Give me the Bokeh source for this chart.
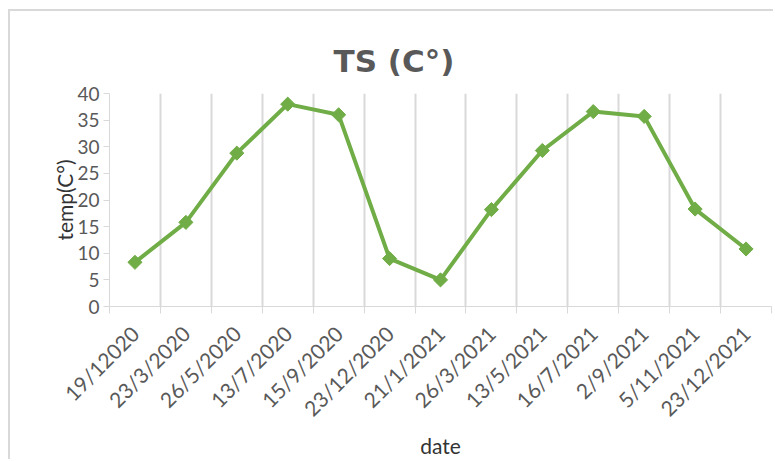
import math
from bokeh.plotting import figure
from bokeh.models import FixedTicker, LinearAxis, Range1d, Title
from bokeh.embed import file_html
from bokeh.resources import INLINE

dates = ["19/12020", "23/3/2020", "26/5/2020", "13/7/2020", "15/9/2020",
         "23/12/2020", "21/1/2021", "26/3/2021", "13/5/2021", "16/7/2021",
         "2/9/2021", "5/11/2021", "23/12/2021"]
temps = [8.3, 15.8, 28.8, 38.0, 36.0, 9.0, 5.0, 18.2, 29.3, 36.6, 35.7, 18.3, 10.8]
y_ticks = [0, 5, 10, 15, 20, 25, 30, 35, 40]

n = len(dates)
xs = list(range(n))
bounds = [i - 0.5 for i in range(n + 1)]

GREEN = "#70ad47"
GRID = "#d9d9d9"
TXT = "#595959"
FONT = "Lato"

p = figure(width=765, height=450, output_backend="svg", toolbar_location=None,
           x_range=Range1d(-0.5, n - 0.5), y_range=Range1d(0, 40),
           min_border_left=99, min_border_right=4, min_border_top=82,
           min_border_bottom=155, x_axis_location=None, y_axis_location=None,
           outline_line_color=None)
p.styles = {"margin-left": "8px", "margin-top": "9px",
            "border-left": f"2px solid {GRID}", "border-top": f"2px solid {GRID}"}

p.title = Title(text="TS (C°)", align="left", offset=224,
                text_font="DejaVu Sans", text_font_size="31px",
                text_font_style="bold", text_color=TXT, standoff=30)

# y axis
yaxis = LinearAxis(ticker=FixedTicker(ticks=y_ticks), axis_label="temp(C°)",
                   axis_line_color=GRID, major_tick_line_color=GRID,
                   major_tick_out=6, major_tick_in=0, minor_tick_line_color=None,
                   major_label_text_font=FONT, major_label_text_font_size="19px",
                   major_label_text_color=TXT, major_label_standoff=4,
                   axis_label_text_font=FONT, axis_label_text_font_size="21px",
                   axis_label_text_font_style="normal", axis_label_text_color="#333333",
                   axis_label_standoff=-3)
p.add_layout(yaxis, "left")

# x axis: tick marks at category boundaries (no labels)
xticks_axis = LinearAxis(ticker=FixedTicker(ticks=bounds),
                         axis_line_color=GRID, major_tick_line_color=GRID,
                         major_tick_out=7, major_tick_in=0, minor_tick_line_color=None,
                         major_label_text_color=None, major_label_text_font_size="8px",
                         major_label_standoff=0)
p.add_layout(xticks_axis, "below")

# x axis: labels at category centres
xlabel_axis = LinearAxis(ticker=FixedTicker(ticks=xs),
                         major_label_overrides={i: d for i, d in zip(xs, dates)},
                         axis_line_color=None, major_tick_line_color=None,
                         minor_tick_line_color=None,
                         major_label_orientation=math.pi / 4,
                         major_label_text_font=FONT, major_label_text_font_size="21px",
                         major_label_text_color=TXT, major_label_standoff=10,
                         axis_label="date", axis_label_text_font=FONT,
                         axis_label_text_font_size="21px", axis_label_text_font_style="normal",
                         axis_label_text_color="#333333", axis_label_standoff=0)
p.add_layout(xlabel_axis, "below")

p.xgrid.ticker = FixedTicker(ticks=bounds)
p.xgrid.grid_line_color = GRID
p.xgrid.grid_line_width = 2
p.ygrid.grid_line_color = None

p.line(xs, temps, line_width=4, color=GREEN)
p.scatter(xs, temps, marker="square", angle=math.pi / 4, size=10,
          fill_color=GREEN, line_color=GREEN)

open("out.html", "w").write(file_html(p, INLINE))
